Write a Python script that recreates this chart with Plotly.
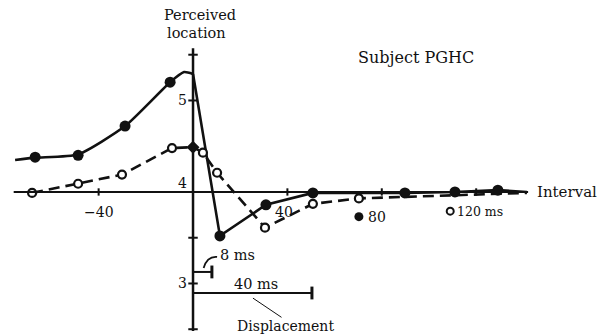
import plotly.graph_objects as go

# ---- data ----
# solid curve, filled circles
solid_t = [-66.9, -48.7, -28.8, -9.7, 11.4, 30.9, 50.8, 89.8, 111.0, 129.2]
solid_v = [4.38, 4.40, 4.72, 5.20, 3.52, 3.86, 3.99, 3.99, 4.00, 4.02]
# smooth rising part of solid curve
rise_t = [-75.4, -66.9, -48.7, -28.8, -9.7, -3.8, 0.0]
rise_v = [4.35, 4.375, 4.41, 4.72, 5.20, 5.31, 5.29]
# falling / settling part of solid curve
fall_t = [0.0, 11.4, 30.9, 50.8, 89.8, 111.0, 129.2, 141.5]
fall_v = [5.29, 3.52, 3.86, 3.99, 3.99, 4.00, 4.02, 4.00]

# dashed curve, open circles
dash_t = [-68.2, -48.7, -30.1, -8.9, 0.0, 4.2, 10.2, 30.5, 50.8, 70.3, 111.0, 129.2, 141.5]
dash_v = [3.99, 4.09, 4.19, 4.48, 4.49, 4.43, 4.21, 3.61, 3.87, 3.93, 3.96, 3.98, 3.99]
dash_mark_t = [-68.2, -48.7, -30.1, -8.9, 4.2, 10.2, 30.5, 50.8, 70.3]
dash_mark_v = [3.99, 4.09, 4.19, 4.48, 4.43, 4.21, 3.61, 3.87, 3.93]

x_ticks = [-40, 40, 80, 120]
y_ticks = [2.5, 3.0, 3.5, 5.0, 5.5]
y_labels = {3.0: "3", 4.0: "4", 5.0: "5"}

displacement_labels = ["8 ms", "40 ms"]
displacement_len = [8.0, 50.4]
displacement_level = [3.126, 2.896]

INK = "#111111"
FONT = "DejaVu Serif"

fig = go.Figure()

# solid curve
fig.add_trace(go.Scatter(x=rise_t, y=rise_v, mode="lines", line=dict(color=INK, width=2.6, shape="spline", smoothing=0.55),
                         hoverinfo="skip", showlegend=False))
fig.add_trace(go.Scatter(x=fall_t, y=fall_v, mode="lines", line=dict(color=INK, width=2.6),
                         hoverinfo="skip", showlegend=False))
# dashed curve
fig.add_trace(go.Scatter(x=dash_t, y=dash_v, mode="lines", line=dict(color=INK, width=2.6, dash="11px,6px"),
                         hoverinfo="skip", showlegend=False))

# axes drawn as shapes
shapes = []
shapes.append(dict(type="line", x0=-76, x1=142, y0=4, y1=4, line=dict(color=INK, width=2)))
shapes.append(dict(type="line", x0=0, x1=0, y0=2.48, y1=5.57, line=dict(color=INK, width=2.5)))
for v in y_ticks:
    shapes.append(dict(type="line", x0=-2.0, x1=2.0, y0=v, y1=v, line=dict(color=INK, width=2)))
for t in x_ticks:
    shapes.append(dict(type="line", x0=t, x1=t, y0=3.96, y1=4.04, line=dict(color=INK, width=2)))

# displacement bars
for L, lev in zip(displacement_len, displacement_level):
    shapes.append(dict(type="line", x0=0, x1=L, y0=lev, y1=lev, line=dict(color=INK, width=2)))
    shapes.append(dict(type="line", x0=L, x1=L, y0=lev - 0.07, y1=lev + 0.07, line=dict(color=INK, width=3)))
# curved pointer for 8 ms
shapes.append(dict(type="path", path="M 4.5,3.17 Q 6,3.30 10.2,3.29", line=dict(color=INK, width=1.8)))
# pointer for Displacement
shapes.append(dict(type="line", x0=25.4, x1=37.5, y0=2.84, y1=2.63, line=dict(color=INK, width=1)))

fig.update_layout(shapes=shapes)

# markers (on top of lines)
fig.add_trace(go.Scatter(x=solid_t, y=solid_v, mode="markers",
                         marker=dict(color=INK, size=11, line=dict(width=0)), hoverinfo="skip", showlegend=False))
fig.add_trace(go.Scatter(x=dash_mark_t, y=dash_mark_v, mode="markers",
                         marker=dict(color="white", size=8, line=dict(color=INK, width=2.2)),
                         hoverinfo="skip", showlegend=False))
fig.add_trace(go.Scatter(x=[0.0], y=[4.49], mode="markers",
                         marker=dict(color=INK, size=10, symbol="diamond"), hoverinfo="skip", showlegend=False))
# isolated symbols next to tick labels
fig.add_trace(go.Scatter(x=[70.3], y=[3.73], mode="markers",
                         marker=dict(color=INK, size=9), hoverinfo="skip", showlegend=False))
fig.add_trace(go.Scatter(x=[109.0], y=[3.79], mode="markers",
                         marker=dict(color="white", size=7, line=dict(color=INK, width=2)), hoverinfo="skip", showlegend=False))

ann = []
def txt(x, y, s, size=14, xanchor="center", yanchor="middle"):
    ann.append(dict(x=x, y=y, text=s, showarrow=False, xanchor=xanchor, yanchor=yanchor,
                    font=dict(family=FONT, size=size, color=INK)))

txt(3, 5.93, "Perceived", 14.5)
txt(1.5, 5.74, "location", 14.5)
txt(69, 5.47, "Subject PGHC", 16, xanchor="left")
txt(145, 4.0, "Interval", 15, xanchor="left")
txt(-40, 3.78, "\u221240", 14)
txt(38.5, 3.78, "40", 14)
txt(73.5, 3.73, "80", 14, xanchor="left")
txt(111, 3.79, "120 ms", 12.5, xanchor="left")
for v, s in y_labels.items():
    yy = v + (0.10 if v == 4.0 else 0)
    txt(-1.6, yy, s, 14, xanchor="right")
txt(10.5, 3.31, displacement_labels[0], 14.5, xanchor="left")
txt(26.5, 2.99, displacement_labels[1], 14.5)
txt(39, 2.53, "Displacement", 14)
fig.update_layout(annotations=ann)

fig.update_layout(
    width=601, height=336, margin=dict(l=0, r=0, t=0, b=0),
    paper_bgcolor="white", plot_bgcolor="white",
    xaxis=dict(range=[-81.8, 172.9], visible=False, fixedrange=True),
    yaxis=dict(range=[2.426, 6.098], visible=False, fixedrange=True),
)

fig.write_html("out.html", config={"displayModeBar": False},
               post_script="document.body.style.margin='0';document.body.style.overflow='hidden';")
